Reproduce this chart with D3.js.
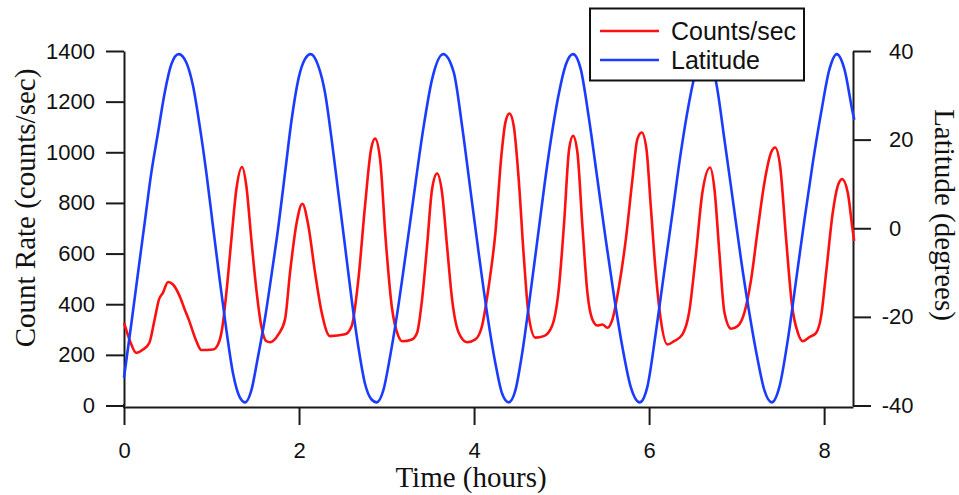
<!DOCTYPE html>
<html>
<head>
<meta charset="utf-8">
<script src="https://cdn.jsdelivr.net/npm/d3@7"></script>
<style>
    body { margin: 0; background: #fff; }
    #chart-holder { width: 959px; height: 495px; }
    .tick text { font-family: "Liberation Sans", Arial, sans-serif; font-size: 22px; fill: #111; }
    .axis path, .axis line { stroke: #1a1a1a; stroke-width: 2px; }
    .title { font-family: "Liberation Serif", "Times New Roman", serif; font-size: 29px; fill: #111; }
    .legend text { font-family: "Liberation Sans", Arial, sans-serif; font-size: 25px; fill: #111; }
</style>
</head>
<body>
<div id="chart-holder"></div>
<script>
// Count rate (time in hours, counts/sec)
const countTime = [0, 0.065, 0.14, 0.217, 0.29, 0.35, 0.40, 0.446, 0.503, 0.56, 0.636, 0.693, 0.739, 0.827, 0.884,
    1.017, 1.074, 1.12, 1.17, 1.227, 1.284, 1.349, 1.398, 1.455, 1.512, 1.569, 1.626, 1.669, 1.764, 1.84, 1.897, 1.973,
    2.038, 2.107, 2.183, 2.259, 2.354, 2.526, 2.602, 2.678, 2.754, 2.823, 2.869, 2.926, 2.99, 3.059, 3.135, 3.181,
    3.291, 3.349, 3.406, 3.463, 3.52, 3.577, 3.634, 3.691, 3.749, 3.825, 3.92, 4.015, 4.091, 4.168, 4.244, 4.312,
    4.358, 4.404, 4.453, 4.51, 4.568, 4.625, 4.701, 4.797, 4.891, 4.968, 5.029, 5.086, 5.131, 5.181, 5.238, 5.295,
    5.352, 5.41, 5.467, 5.524, 5.581, 5.657, 5.734, 5.81, 5.866, 5.916, 5.97, 6.019, 6.076, 6.133, 6.209, 6.286,
    6.381, 6.457, 6.533, 6.609, 6.697, 6.747, 6.803, 6.861, 6.937, 7.013, 7.089, 7.166, 7.242, 7.318, 7.394, 7.44,
    7.497, 7.566, 7.634, 7.7, 7.757, 7.832, 7.909, 7.966, 8.023, 8.099, 8.156, 8.206, 8.27, 8.32, 8.343];
const countRate = [327, 258, 208, 221, 248, 340, 419, 446, 488, 478, 432, 380, 340, 254, 219,
    221, 241, 300, 446, 656, 854, 942, 867, 656, 459, 314, 254, 250, 281, 340, 525, 722,
    797, 709, 525, 367, 274, 281, 314, 498, 788, 1012, 1054, 973, 656, 393, 274, 254,
    261, 287, 419, 630, 854, 916, 841, 630, 419, 287, 250, 261, 314, 472, 683, 986,
    1118, 1153, 1105, 894, 590, 353, 268, 274, 314, 460, 722, 1012, 1065, 999, 709, 446,
    340, 316, 320, 307, 340, 472, 656, 894, 1052, 1078, 1012, 788, 525, 340, 241, 254,
    281, 367, 590, 841, 940, 854, 604, 367, 303, 314, 367, 498, 696, 881, 999, 1019,
    946, 656, 393, 287, 254, 270, 287, 353, 525, 762, 867, 894, 841, 709, 650];

// Latitude (time in hours, degrees)
const latTime = [0, 0.084, 0.16, 0.236, 0.312, 0.389, 0.465, 0.541, 0.625, 0.712, 0.789, 0.865, 0.941,
    1.017, 1.094, 1.17, 1.246, 1.322, 1.386, 1.455, 1.531, 1.611, 1.688, 1.764, 1.84, 1.916, 1.992,
    2.069, 2.133, 2.221, 2.297, 2.373, 2.449, 2.526, 2.602, 2.678, 2.754, 2.823, 2.888, 2.963,
    3.04, 3.116, 3.211, 3.291, 3.425, 3.52, 3.646, 3.768, 3.863, 3.958, 4.053, 4.149, 4.244, 4.32,
    4.396, 4.472, 4.549, 4.644, 4.739, 4.834, 4.929, 4.965, 5.048, 5.131, 5.219, 5.314, 5.41,
    5.505, 5.6, 5.695, 5.79, 5.893, 5.98, 6.076, 6.171, 6.267, 6.362, 6.457, 6.503, 6.57, 6.635,
    6.70, 6.766, 6.861, 6.956, 7.051, 7.146, 7.242, 7.318, 7.402, 7.489, 7.585, 7.68, 7.775,
    7.871, 7.966, 8.061, 8.145, 8.232, 8.327, 8.345];
const latitude = [-33.7, -21.5, -10.1, 1.2, 12.5, 21.6, 30.6, 37.0, 39.3, 37.4, 32.1, 23.1, 12.5,
    0.4, -11.7, -23.0, -32.8, -38.1, -39.3, -36.6, -29.0, -20.3, -10.2, 0.4, 12.5, 24.6, 33.6,
    38.2, 39.3, 36.6, 30.6, 20.0, 8.0, -4.1, -16.2, -26.8, -35.1, -38.5, -39.3, -36.6,
    -29.0, -20.0, -7.0, 4.4, 23.1, 33.6, 39.3, 35.2, 23.1, 8.7, -5.6, -19.2, -30.5, -37.3,
    -39.3, -36.6, -28.3, -14.7, -0.3, 14.0, 26.1, 30.0, 36.9, 39.3, 35.9, 24.6, 11.0,
    -2.6, -15.4, -26.8, -35.8, -39.3, -35.8, -23.7, -10.1, 3.4, 17.0, 28.4, 32.9, 37.5, 39.3,
    37.5, 32.9, 20.0, 6.5, -7.1, -19.2, -29.8, -36.6, -39.3, -35.8, -25.2, -11.7, 1.9,
    14.8, 26.1, 35.9, 39.3, 35.9, 26.1, 24.5];

const timeTicks = [0, 2, 4, 6, 8];
const countTicks = [0, 200, 400, 600, 800, 1000, 1200, 1400];
const latTicks = [-40, -20, 0, 20, 40];
const seriesNames = ["Counts/sec", "Latitude"];
const seriesColors = ["#ff1010", "#1a3cff"];

// Set up canvas
const width = 959;
const height = 495;

const svg = d3.select("#chart-holder")
    .append("svg")
    .attr("width", width)
    .attr("height", height);

const x = d3.scaleLinear().domain([0, 8.33]).range([124, 853]);
const yCount = d3.scaleLinear().domain([0, 1400]).range([405.5, 51]);
const yLat = d3.scaleLinear().domain([-40, 40]).range([405.5, 51]);

// plain numbers, hyphen for the minus
const plain = d => String(d);

// Axes
svg.append("g")
    .attr("class", "axis")
    .attr("transform", "translate(0,407)")
    .call(d3.axisBottom(x).tickValues(timeTicks).tickFormat(plain)
        .tickSize(18).tickSizeOuter(0).tickPadding(17));

svg.append("g")
    .attr("class", "axis")
    .attr("transform", "translate(124,0)")
    .call(d3.axisLeft(yCount).tickValues(countTicks).tickFormat(plain)
        .tickSize(18).tickSizeOuter(0).tickPadding(11));

const rightAxis = svg.append("g")
    .attr("class", "axis")
    .attr("transform", "translate(853,0)")
    .call(d3.axisRight(yLat).tickValues(latTicks).tickFormat(plain)
        .tickSize(18).tickSizeOuter(0).tickPadding(18));

// minus sign hangs left of the digits
rightAxis.selectAll(".tick text")
    .attr("dx", d => d < 0 ? "-0.333em" : 0);

// extend left axis down to the time axis
svg.append("line")
    .attr("x1", 124).attr("x2", 124)
    .attr("y1", 404).attr("y2", 408)
    .attr("stroke", "#1a1a1a")
    .attr("stroke-width", 2);

// Titles
svg.append("text")
    .attr("class", "title")
    .attr("text-anchor", "middle")
    .attr("x", 471)
    .attr("y", 487)
    .text("Time (hours)");

svg.append("text")
    .attr("class", "title")
    .attr("text-anchor", "middle")
    .attr("transform", "translate(35,208) rotate(-90)")
    .text("Count Rate (counts/sec)");

svg.append("text")
    .attr("class", "title")
    .attr("text-anchor", "middle")
    .attr("transform", "translate(935,215) rotate(90)")
    .text("Latitude (degrees)");

// Lines
const countLine = d3.line()
    .x(d => x(d[0]))
    .y(d => yCount(d[1]))
    .curve(d3.curveMonotoneX);

const latLine = d3.line()
    .x(d => x(d[0]))
    .y(d => yLat(d[1]))
    .curve(d3.curveMonotoneX);

svg.append("path")
    .datum(countTime.map((t, i) => [t, countRate[i]]))
    .attr("d", countLine)
    .attr("fill", "none")
    .attr("stroke", seriesColors[0])
    .attr("stroke-width", 2.6);

svg.append("path")
    .datum(latTime.map((t, i) => [t, latitude[i]]))
    .attr("d", latLine)
    .attr("fill", "none")
    .attr("stroke", seriesColors[1])
    .attr("stroke-width", 2.6);

// Legend
const legend = svg.append("g").attr("class", "legend");

legend.append("rect")
    .attr("x", 590)
    .attr("y", 8.5)
    .attr("width", 214)
    .attr("height", 72)
    .attr("fill", "#fff")
    .attr("stroke", "#111")
    .attr("stroke-width", 2);

seriesNames.forEach(function(name, i) {
    const ly = 31 + i * 29;
    legend.append("line")
        .attr("x1", 600).attr("x2", 659)
        .attr("y1", ly).attr("y2", ly)
        .attr("stroke", seriesColors[i])
        .attr("stroke-width", 2.6);
    legend.append("text")
        .attr("x", 671)
        .attr("y", ly + 8.5)
        .text(name);
});
</script>
</body>
</html>
